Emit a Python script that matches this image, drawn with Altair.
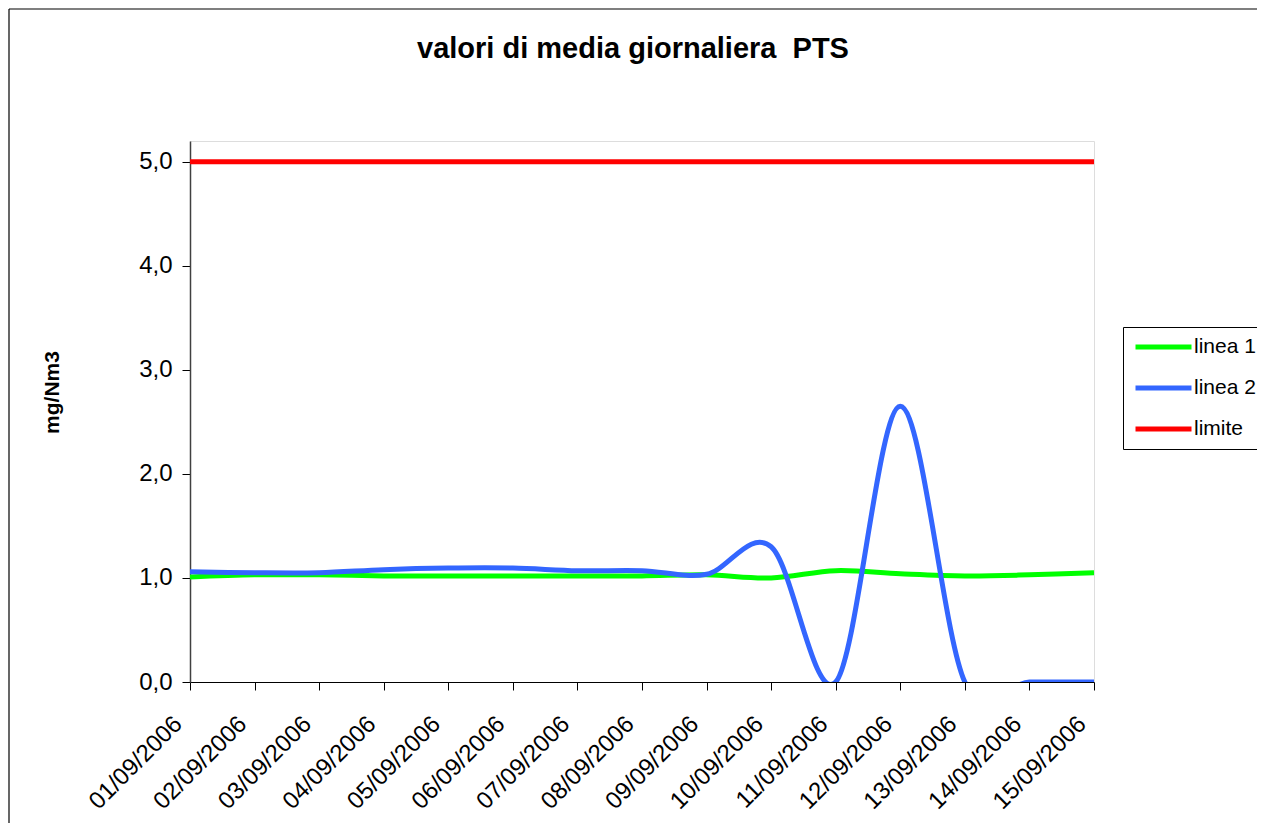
import altair as alt
import pandas as pd

dates = ["01/09/2006", "02/09/2006", "03/09/2006", "04/09/2006", "05/09/2006",
         "06/09/2006", "07/09/2006", "08/09/2006", "09/09/2006", "10/09/2006",
         "11/09/2006", "12/09/2006", "13/09/2006", "14/09/2006", "15/09/2006"]
linea1 = [1.01, 1.03, 1.03, 1.02, 1.02, 1.02, 1.02, 1.02, 1.03, 1.00, 1.07, 1.04, 1.02, 1.03, 1.05]
linea2 = [1.06, 1.05, 1.05, 1.08, 1.095, 1.095, 1.07, 1.07, 1.035, 1.30, 0.0, 2.65, 0.0, 0.0, 0.0]
limite = [5.0] * 15

series_names = ["linea 1", "linea 2", "limite"]
series_colors = ["#00FF00", "#3366FF", "#FF0000"]
series_widths = [5, 5, 3.5]

rows = []
for name, vals in zip(series_names, [linea1, linea2, limite]):
    for d, v in zip(dates, vals):
        rows.append({"serie": name, "data": d, "valore": v})
df = pd.DataFrame(rows)

W, H = 904, 541
FONT = "Liberation Sans"

lines = alt.Chart(df).mark_line(interpolate="cardinal", clip=True, strokeJoin="round").encode(
    x=alt.X("data:O", sort=dates, scale=alt.Scale(type="point", padding=0),
            axis=alt.Axis(title=None, labelAngle=315, labelAlign="right", labelBaseline="middle",
                          labelFontSize=24, labelPadding=30, labelOffset=-12, tickSize=8,
                          tickColor="#000000", domainColor="#000000", labelColor="#000000",
                          labelFont=FONT, labelOverlap=False)),
    y=alt.Y("valore:Q", scale=alt.Scale(domain=[0, 5.2], nice=False, zero=True),
            axis=alt.Axis(title="mg/Nm3", values=[0, 1, 2, 3, 4, 5],
                          labelExpr="replace(format(datum.value, '.1f'), '.', ',')",
                          labelFontSize=24, labelFont=FONT, labelPadding=10, tickSize=8,
                          tickColor="#000000", domainColor="#404040", domainWidth=1.5,
                          labelColor="#000000", grid=False,
                          titleFont=FONT, titleFontSize=21, titleFontWeight="bold",
                          titleAngle=270, titleAlign="center", titleBaseline="alphabetic",
                          titleX=-132, titleY=251, titleColor="#000000")),
    color=alt.Color("serie:N", sort=series_names,
                    scale=alt.Scale(domain=series_names, range=series_colors),
                    legend=alt.Legend(title=None, orient="none", legendX=933, legendY=186,
                                      symbolType="stroke", symbolSize=3136, symbolStrokeWidth=5,
                                      labelFontSize=21, labelFont=FONT, labelColor="#000000",
                                      strokeColor="#000000", fillColor="#FFFFFF", padding=10,
                                      clipHeight=20, rowPadding=20, labelOffset=0)),
    strokeWidth=alt.StrokeWidth("serie:N", sort=series_names,
                                scale=alt.Scale(domain=series_names, range=series_widths),
                                legend=None),
)

frame = alt.Data(values=[{}])
border_left = alt.Chart(frame).mark_rule(stroke="#000000", strokeWidth=1.2, clip=False).encode(
    x=alt.value(-181), y=alt.value(-132), y2=alt.value(900)
)
border_top = alt.Chart(frame).mark_rule(stroke="#000000", strokeWidth=1.2, clip=False).encode(
    x=alt.value(-181), x2=alt.value(3000), y=alt.value(-132)
)

title = alt.Chart(frame).mark_text(
    text="valori di media giornaliera\u00a0\u00a0PTS", font=FONT, fontSize=29, fontWeight="bold",
    align="center", baseline="alphabetic", color="#000000", clip=False
).encode(x=alt.value(443), y=alt.value(-83))

chart = alt.layer(border_left, border_top, lines, title).properties(
    width=W, height=H,
    autosize=alt.AutoSizeParams(type="none"),
    padding={"left": 182, "top": 133, "right": 163, "bottom": 141},
).configure_view(stroke="#808080", strokeWidth=1.5).configure(background="#FFFFFF")

chart.save("out.html", embed_options={"renderer": "svg", "actions": False})
